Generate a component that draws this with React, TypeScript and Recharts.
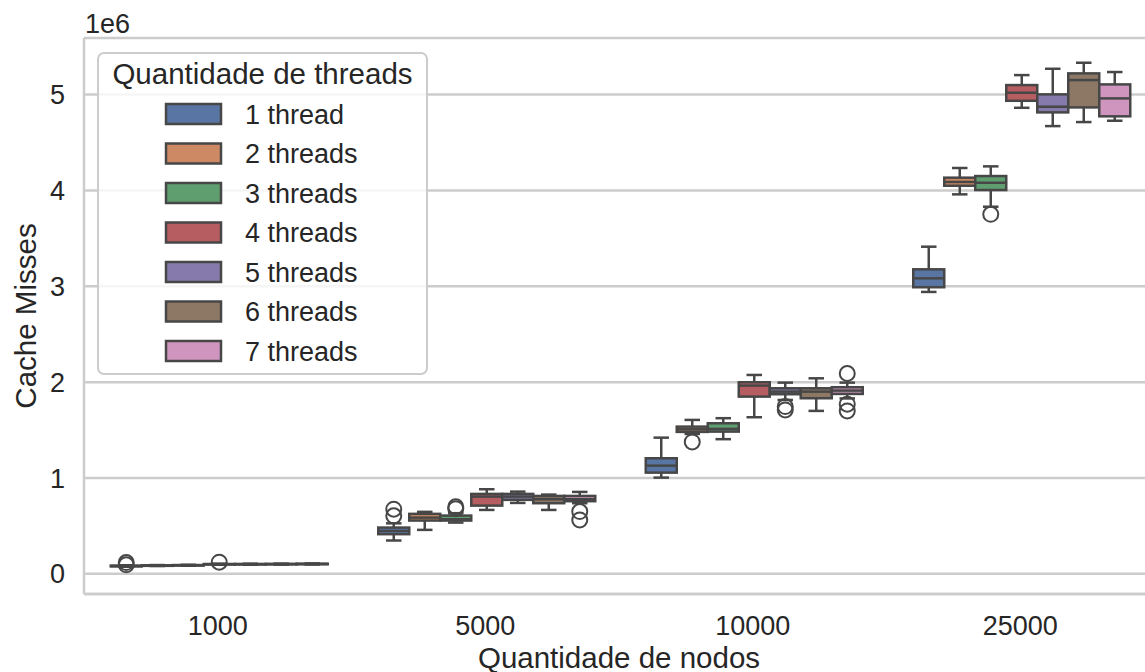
import React from "react";
import { Bar, BarChart, CartesianGrid, Legend, XAxis, YAxis } from "recharts";

const nodeCounts = ["1000", "5000", "10000", "25000"];
const threadNames = [
  "1 thread",
  "2 threads",
  "3 threads",
  "4 threads",
  "5 threads",
  "6 threads",
  "7 threads",
];
const threadColors = [
  "#5975a4",
  "#cc8963",
  "#5f9e6e",
  "#b55d60",
  "#857aab",
  "#8d7866",
  "#d095bf",
];
const yTicks = [0, 1, 2, 3, 4, 5];

// cache misses in units of 1e6, one row per node count:
// [lower whisker, q1, median, q3, upper whisker]
const stats1 = [
  [0.074, 0.078, 0.082, 0.086, 0.09],
  [0.348, 0.414, 0.448, 0.483, 0.527],
  [1.004, 1.056, 1.129, 1.206, 1.421],
  [2.941, 2.99, 3.083, 3.177, 3.413],
];
const stats2 = [
  [0.082, 0.085, 0.087, 0.089, 0.092],
  [0.459, 0.556, 0.587, 0.626, 0.647],
  [1.46, 1.481, 1.508, 1.536, 1.606],
  [3.959, 4.049, 4.088, 4.133, 4.234],
];
const stats3 = [
  [0.085, 0.088, 0.09, 0.092, 0.095],
  [0.535, 0.556, 0.57, 0.608, 0.633],
  [1.405, 1.484, 1.512, 1.571, 1.624],
  [3.83, 4.004, 4.08, 4.15, 4.251],
];
const stats4 = [
  [0.095, 0.098, 0.1, 0.103, 0.106],
  [0.667, 0.712, 0.806, 0.834, 0.883],
  [1.634, 1.849, 1.964, 1.999, 2.075],
  [4.862, 4.935, 5.019, 5.099, 5.203],
];
const stats5 = [
  [0.096, 0.099, 0.101, 0.103, 0.106],
  [0.74, 0.772, 0.806, 0.834, 0.858],
  [1.814, 1.874, 1.901, 1.936, 1.995],
  [4.671, 4.814, 4.873, 5.002, 5.269],
];
const stats6 = [
  [0.097, 0.1, 0.102, 0.104, 0.107],
  [0.667, 0.737, 0.779, 0.813, 0.827],
  [1.7, 1.832, 1.901, 1.936, 2.04],
  [4.713, 4.866, 5.151, 5.221, 5.332],
];
const stats7 = [
  [0.098, 0.101, 0.103, 0.106, 0.109],
  [0.737, 0.758, 0.779, 0.813, 0.855],
  [1.83, 1.877, 1.912, 1.947, 1.995],
  [4.727, 4.773, 4.96, 5.106, 5.235],
];

// outlier points (x1e6), same layout
const fliers1 = [[0.118, 0.094], [0.675, 0.605], [], []];
const fliers2 = [[], [], [1.376], []];
const fliers3 = [[], [0.7, 0.68], [], [3.751]];
const fliers4 = [[0.122], [], [], []];
const fliers5 = [[], [], [1.745, 1.71], []];
const fliers6 = [[], [], [], []];
const fliers7 = [[], [0.65, 0.563], [2.09, 1.77, 1.7], []];

const allStats = [stats1, stats2, stats3, stats4, stats5, stats6, stats7];
const allFliers = [fliers1, fliers2, fliers3, fliers4, fliers5, fliers6, fliers7];

type Box = { s: number[]; fliers: number[] };
type Row = { name: string; boxes: Box[] };

const rows: Row[] = nodeCounts.map((name, c) => ({
  name,
  boxes: allStats.map((st, t) => ({ s: st[c], fliers: allFliers[t][c] })),
}));

const extent = (b: Box): [number, number] => [
  Math.min(b.s[0], ...b.fliers),
  Math.max(b.s[4], ...b.fliers),
];

const FONT = "'Liberation Sans', Arial, sans-serif";
const TEXT = "#262626";
const GRID = "#cccccc";
const EDGE = "#474747";

// each bar spans the full range of a box (outliers included); the box parts
// are placed inside that pixel span with the same linear mapping
const makeBoxShape = (t: number) => (props: any) => {
  const { x, y, width, height, payload } = props;
  const b: Box = payload.boxes[t];
  const [lo, hi] = extent(b);
  const py = (v: number) => y + (height * (hi - v)) / (hi - lo || 1);
  const cx = x + width / 2;
  const cap = width / 4;
  const [wLo, q1, med, q3, wHi] = b.s;
  return (
    <g>
      <line x1={cx} x2={cx} y1={py(wHi)} y2={py(q3)} stroke={EDGE} strokeWidth={2.5} />
      <line x1={cx} x2={cx} y1={py(q1)} y2={py(wLo)} stroke={EDGE} strokeWidth={2.5} />
      <line x1={cx - cap} x2={cx + cap} y1={py(wHi)} y2={py(wHi)} stroke={EDGE} strokeWidth={2.5} />
      <line x1={cx - cap} x2={cx + cap} y1={py(wLo)} y2={py(wLo)} stroke={EDGE} strokeWidth={2.5} />
      <rect
        x={x}
        y={py(q3)}
        width={width}
        height={Math.max(py(q1) - py(q3), 0.5)}
        fill={threadColors[t]}
        stroke={EDGE}
        strokeWidth={2.5}
      />
      <line x1={x} x2={x + width} y1={py(med)} y2={py(med)} stroke={EDGE} strokeWidth={2.5} />
      {b.fliers.map((f, i) => (
        <circle key={i} cx={cx} cy={py(f)} r={7.5} fill="none" stroke={EDGE} strokeWidth={2} />
      ))}
    </g>
  );
};

const LegendBox = () => (
  <svg width={331} height={323} style={{ display: "block" }}>
    <rect
      x={1}
      y={1}
      width={329}
      height={321}
      rx={6}
      fill="rgba(255,255,255,0.8)"
      stroke={GRID}
      strokeWidth={2}
    />
    <text x={165.5} y={31.5} textAnchor="middle" fontSize={29.5} fill={TEXT} fontFamily={FONT}>
      Quantidade de threads
    </text>
    {threadNames.map((n, i) => {
      const cy = 62 + i * 39.5;
      return (
        <g key={n}>
          <rect
            x={69}
            y={cy - 10}
            width={55}
            height={20}
            fill={threadColors[i]}
            stroke={EDGE}
            strokeWidth={2.5}
          />
          <text x={148} y={cy + 9.5} fontSize={27} fill={TEXT} fontFamily={FONT}>
            {n}
          </text>
        </g>
      );
    })}
  </svg>
);

export default function App() {
  return (
    <div
      style={{
        position: "absolute",
        left: 0,
        top: 0,
        width: 1145,
        height: 672,
        overflow: "hidden",
        background: "#fff",
      }}
    >
      <BarChart
        width={1167}
        height={672}
        data={rows}
        margin={{ top: 38, right: 13, bottom: 0, left: 14 }}
        barCategoryGap="10%"
        barGap={0}
      >
        <CartesianGrid vertical={false} stroke={GRID} strokeWidth={2.5} />
        <XAxis
          dataKey="name"
          height={78}
          tickLine={false}
          tickSize={0}
          tickMargin={22}
          axisLine={{ stroke: GRID, strokeWidth: 2.5 }}
          tick={{ fill: TEXT, fontSize: 27, fontFamily: FONT }}
          label={{
            value: "Quantidade de nodos",
            position: "insideBottom",
            offset: 4,
            fill: TEXT,
            fontSize: 29.5,
            fontFamily: FONT,
          }}
        />
        <XAxis
          xAxisId="top"
          orientation="top"
          dataKey="name"
          height={0}
          tick={false}
          tickLine={false}
          axisLine={{ stroke: GRID, strokeWidth: 2.5 }}
        />
        <YAxis
          width={70}
          domain={[-0.21, 5.59]}
          allowDataOverflow
          ticks={yTicks}
          tickLine={false}
          tickSize={0}
          tickMargin={19}
          axisLine={{ stroke: GRID, strokeWidth: 2.5 }}
          tick={{ fill: TEXT, fontSize: 27, fontFamily: FONT }}
          label={{
            content: (p: any) => {
              const vb = p.viewBox;
              const lx = vb.x + 21.5;
              const ly = vb.y + vb.height / 2;
              return (
                <g>
                  <text
                    x={lx}
                    y={ly}
                    transform={`rotate(-90 ${lx} ${ly})`}
                    textAnchor="middle"
                    fontSize={29.5}
                    fill={TEXT}
                    fontFamily={FONT}
                  >
                    Cache Misses
                  </text>
                  <text x={vb.x + vb.width + 1} y={vb.y - 5} fontSize={27} fill={TEXT} fontFamily={FONT}>
                    1e6
                  </text>
                </g>
              );
            },
          }}
        />
        <Legend
          layout="vertical"
          align="center"
          verticalAlign="middle"
          content={() => <LegendBox />}
          wrapperStyle={{ position: "absolute", left: 97, top: 52, width: 331, height: 323 }}
        />
        {threadNames.map((n, t) => (
          <Bar
            key={n}
            name={n}
            dataKey={(r: Row) => extent(r.boxes[t])}
            fill={threadColors[t]}
            shape={makeBoxShape(t)}
            isAnimationActive={false}
          />
        ))}
      </BarChart>
    </div>
  );
}
